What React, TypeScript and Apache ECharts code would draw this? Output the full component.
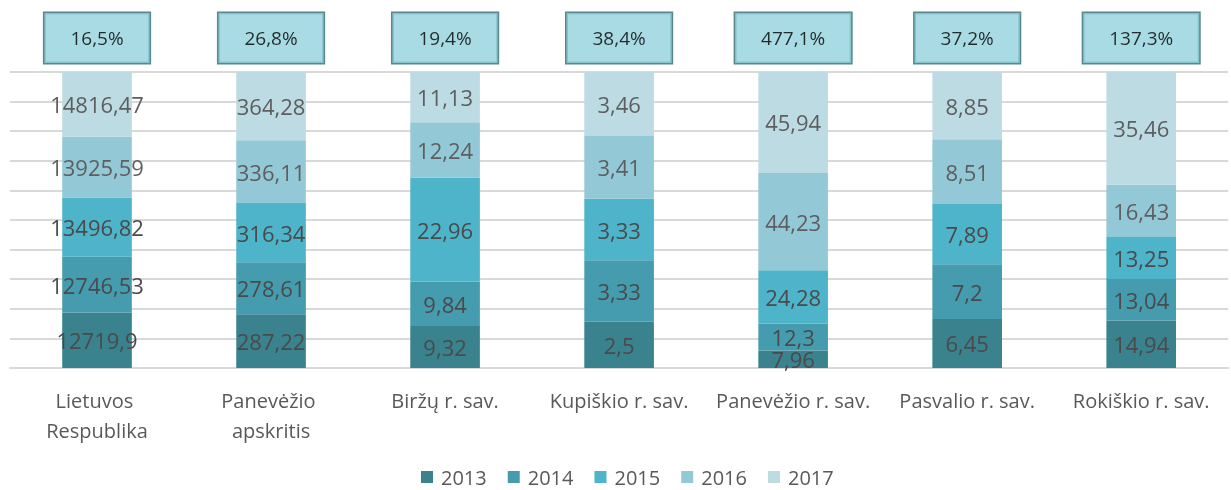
import React, { useEffect, useRef } from "react";
import * as echarts from "echarts";

const categories = [
  "Lietuvos Respublika",
  "Panevėžio apskritis",
  "Biržų r. sav.",
  "Kupiškio r. sav.",
  "Panevėžio r. sav.",
  "Pasvalio r. sav.",
  "Rokiškio r. sav.",
];
const years = ["2013", "2014", "2015", "2016", "2017"];
const v2013 = [12719.9, 287.22, 9.32, 2.5, 7.96, 6.45, 14.94];
const v2014 = [12746.53, 278.61, 9.84, 3.33, 12.3, 7.2, 13.04];
const v2015 = [13496.82, 316.34, 22.96, 3.33, 24.28, 7.89, 13.25];
const v2016 = [13925.59, 336.11, 12.24, 3.41, 44.23, 8.51, 16.43];
const v2017 = [14816.47, 364.28, 11.13, 3.46, 45.94, 8.85, 35.46];
const growth = ["16,5%", "26,8%", "19,4%", "38,4%", "477,1%", "37,2%", "137,3%"];

const colors = ["#3A828E", "#449CAE", "#4DB4C9", "#93C8D6", "#BCDBE3"];
const FONT = "'Open Sans', sans-serif";

export default function App() {
  const ref = useRef<HTMLDivElement>(null);
  useEffect(() => {
    if (!ref.current) return;
    const chart = echarts.init(ref.current, undefined, { renderer: "svg" });
    const raw = [v2013, v2014, v2015, v2016, v2017];
    const totals = categories.map((_, i) => raw.reduce((s, arr) => s + arr[i], 0));
    const barSeries = raw.map((arr, k) => ({
      name: years[k],
      type: "bar",
      stack: "total",
      barWidth: "40%",
      itemStyle: { color: colors[k] },
      data: arr.map((v, i) => (v / totals[i]) * 100),
      label: {
        show: true,
        position: "inside",
        color: k < 3 ? "#4A4A4A" : "#5E5E5E",
        fontSize: 22,
        fontFamily: FONT,
        formatter: (p: any) => String(arr[p.dataIndex]).replace(".", ","),
      },
    }));
    chart.setOption({
      animation: false,
      textStyle: { fontFamily: FONT },
      grid: { left: 10, right: 0, top: 72, bottom: 122 },
      legend: {
        data: years,
        top: 467,
        padding: 0,
        left: 421,
        icon: "rect",
        itemWidth: 12,
        itemHeight: 12,
        itemGap: 21,
        textStyle: { color: "#595959", fontSize: 20, fontFamily: FONT, padding: [0, 0, 0, 3] },
      },
      xAxis: {
        type: "category",
        data: categories,
        axisTick: { show: false },
        axisLine: { show: true, lineStyle: { color: "#D9D9D9", width: 2 } },
        axisLabel: {
          interval: 0,
          color: "#595959",
          fontSize: 20,
          fontFamily: FONT,
          lineHeight: 30,
          width: 174,
          overflow: "break",
          margin: 17,
        },
      },
      yAxis: {
        type: "value",
        min: 0,
        max: 100,
        interval: 10,
        axisLabel: { show: false },
        axisLine: { show: false },
        axisTick: { show: false },
        splitLine: { lineStyle: { color: "#D9D9D9", width: 2 } },
      },
      series: [
        ...barSeries,
        {
          name: "growth",
          type: "scatter",
          symbolSize: 0,
          data: categories.map(() => 100),
          z: 10,
          label: {
            show: true,
            position: "top",
            distance: 9,
            formatter: (p: any) => growth[p.dataIndex],
            color: "#000000",
            fontSize: 19,
            fontFamily: FONT,
            lineHeight: 22,
            backgroundColor: "#94D2DD",
            borderColor: "#2E6A72",
            borderWidth: 1.5,
            padding: [14, 26, 14, 26],
          },
        },
      ],
    });
    return () => chart.dispose();
  }, []);
  return (
    <div
      ref={ref}
      style={{ position: "fixed", left: 0, top: 0, width: 1231, height: 490 }}
    />
  );
}
